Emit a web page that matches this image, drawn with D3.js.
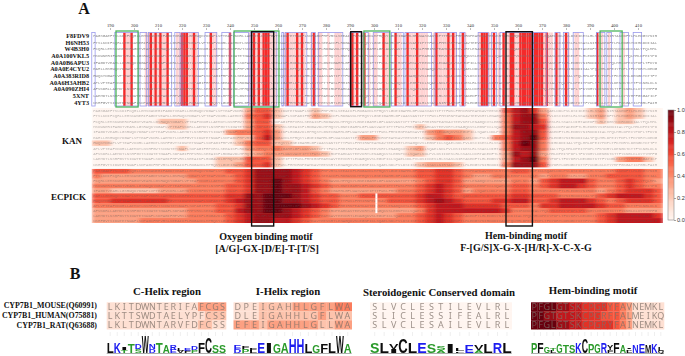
<!DOCTYPE html>
<html>
<head>
<meta charset="utf-8">
<script src="https://d3js.org/d3.v7.min.js"></script>
<style>
  html, body { margin: 0; padding: 0; background: #fff; }
  svg { display: block; }
  .serif { font-family: "Liberation Serif", serif; font-weight: bold; fill: #111; }
</style>
</head>
<body>
<svg id="chart" width="685" height="356"></svg>
<script>
// panel A alignment
const msaLabels = ["F8FDV9", "H6NH53", "W4B3H0", "A0A100VKL5", "A0A0B6APU3", "A0A0E4CYU2", "A0A383RID8", "A0A6H3AHB2", "A0A090ZHI4", "5XNT", "4YT3"];
const residueTicks = [190, 200, 210, 220, 230, 240, 250, 260, 270, 280, 290, 300, 310, 320, 330, 340, 350, 360, 370, 380, 390, 400, 410];
const alignedSeq = "PAGSGAEFTSLKDIFCQRLLEMSKWNERIFAGDTVEAHLLGSRWQKYDGAPLVPTEAFVKDRLLAEMDTLNSHFGVTSIDWTETNWAFLSDPAGIFHPVRSLSEEAIKFLRDGAVDLMPHQSYLGNEIGAHHLGFLWASVANTIPTTFWSLFHMIRNPEAMKAVTEEVKRTLENAGQKVSLEGNPICLSQAELNDLPVLDSIIKESLRLSSASLNIRTAKEDFTLHLEDGSYNIRKDDIIALYPQLMHLDPEIYPDPLTFKYDRYLDENGKTKTTFYCNGLKLKYYYMPFGSGATICPGRLFAIHEIKQFLILMLSYFELELIEGQAKCPPLDQSRAGLGILPPLNDIEFKYKFKHL";
const conservedResidues = [196, 199, 207, 209, 211, 214, 220, 221, 222, 225, 232, 240, 250, 252, 254, 255, 256, 264, 268, 270, 275, 291, 293, 296, 304, 309, 314, 318, 326, 331, 333, 337, 345, 346, 347, 350, 354, 357, 358, 361, 362, 363, 364, 365, 366, 367, 368, 369, 370, 372, 376, 380, 393];
const similarResidues = [197, 198, 205, 206, 208, 210, 212, 213, 218, 219, 223, 224, 226, 233, 234, 248, 249, 251, 253, 257, 258, 259, 263, 265, 266, 267, 269, 271, 274, 277, 278, 281, 284, 285, 286, 290, 292, 295, 298, 300, 301, 305, 306, 310, 311, 315, 316, 317, 319, 320, 321, 322, 325, 327, 328, 329, 330, 332, 334, 338, 344, 348, 352, 355, 356, 359, 360, 371, 373, 374, 377, 381, 384, 385, 394, 395, 398, 404];
const blueSpans = [[182.4, 183.8], [192, 201.8], [202.5, 205.3], [206, 215.7], [217, 219.2], [220, 226.8], [229.6, 234.5], [236.6, 240], [241.4, 247.7], [248.4, 259.5], [261.6, 262.3], [263, 272], [274, 275.5], [276.8, 287], [290, 294.8], [295.5, 297.6], [299.7, 306.6], [307.3, 312.2], [312.9, 324], [325.4, 334.4], [335.8, 337.9], [343.4, 347.6], [349, 351], [352.5, 366.4], [366.4, 372], [375.4, 377.5], [378.9, 381], [383, 387.2], [392.7, 396.2], [397, 399], [402.5, 406], [408, 411.5]];
const greenSpans = [[192.5, 201.7], [241.7, 260.4], [295.8, 306.6], [394.2, 403.4]];
const blackSpans = [[290.3, 294.8], [249, 258.2], [355, 366]];

// panel A heatmaps, one digit per block, digit / 9 is the attribution score
const kanRows = [
  "0000000000 0000003552 0002000000 0000000000 0005786300 0023023200",
  "0000000000 0000004562 0003200000 0000000000 0004788400 0023023200",
  "0000000222 0000003550 0000000000 0000000000 0004788500 0002022000",
  "0000000022 0000003552 0000000000 0000200000 0004887600 0000000000",
  "0000000000 0000344563 0000000000 0000034332 0004788500 0000000000",
  "0000000000 0000022573 0000000033 0000024542 0045789500 0000000000",
  "2200000000 0000024552 2000000000 0000000000 0004798400 0000000000",
  "0000000002 0000003444 3332000000 0002300000 0004788400 0000000000",
  "0000000000 0000002343 3333200000 0002200000 0003878300 0000000000",
  "0000000000 0002225552 0000000000 0000000000 0003789400 0000034420",
  "0000000000 0002235562 0000000000 0000233320 0004888500 0000000000"
];
const ecpickRows = [
  "5555444444 4444556888 8765444444 4444556654 4444554444 4444455544",
  "4333333333 4444456888 8765444444 4444556654 3344444344 3344555544",
  "3333333333 3444456889 8765433333 3333456653 3333443567 7754456543",
  "4444444444 4444556889 8876544444 4444567654 4444554567 7654456544",
  "3322222333 4444556889 8875433333 3344567653 4444554444 4443456665",
  "5555555555 5555668899 9876554455 5555677655 5555665554 4445677765",
  "5566666655 5555678899 8876554444 4555678765 5566775567 7765456665",
  "4444444444 4445568899 9987654444 4444567776 6665554667 7776554444",
  "3333333333 4445578899 8765433333 3333467777 7776444455 5544443333",
  "3333333333 4444567888 8765433333 3344567654 4444444444 4445677776",
  "3333344444 4444567887 7654444444 4444567654 4444444444 4445677777"
];
const ecpickGapResidue = 301;
const ecpickGapRows = [5, 6, 7, 8];
const colorTicks = [0, 0.2, 0.4, 0.6, 0.8, 1];

// panel B
const strainLabels = ["CYP7B1_MOUSE(Q60991)", "CYP7B1_HUMAN(O75881)", "CYP7B1_RAT(Q63688)"];
const cHelixSeqs = ["LKITDWNTERIFAFCGS", "LKTTSWDTAELYPFCSS", "LKLTDWNTARVFDFCSS"];
const cHelixScores = ["11111111111113333", "11111111111111222", "11111111111112211"];
const cHelixLogo = "L2.4 K2.7 T.7+I.5 T2.2 S1+D1.4 W4.2 D1+N1.4 T2.4 A2 E.8+R1.2 V.6+L.7 F.6+E.7 P.7+D.8 F2.4 C3.8 S1.8 S1.8".split(" ");
const iHelixSeqs = ["DPEIGAHHLGFLWA", "DLEIGAHHLGFLWA", "EFEIGAHHLGLLWA"];
const iHelixScores = ["11122223333344", "11122222223222", "33323333332233"];
const iHelixLogo = "D.9+E.9 P1+F.7 L.5+F.5 E2.4 I2.4 G2.3 A2.4 H3.6 H3.6 L2.2 G2 F2.3 L2.5 W4.3 A2.3".split(" ");
const steroidSeqs = ["SLVCLESTILEVLRL", "SLICLESSIFEALRL", "SLVCLESAILEVLRL"];
const steroidScores = ["000000000000000", "000000000000000", "000000000000000"];
const steroidLogo = "S2.4 L2.5 I.9+V1.3 C3.6 L2.5 E2.4 S2.2 A.7+S.9 I2.3 F.4+L.5 E2 A.7+V1.2 L2.2 R2.5 L2.5".split(" ");
const hemSeqs = ["PFGLGTSKCPGRYFAVNEMKL", "PFGTGTSKCPGRFFALMEIKQ", "PFGLGTSKCPGRYFAINEMKL"];
const hemScores = ["999988776666554311111", "998877776665554311111", "999988776666654311111"];
const hemLogo = "P2.5 F2.5 G1.6 L.5+T.5 G2.2 T2 S2 K2.4 C3.6 P2.2 G2.3 R2.4 F.7+Y1.2 F2.4 A2 L.6+V.4+I.4 N1.8 E2.2 M2 K2.2 Q.5+L.8".split(" ");

var svg = d3.select("#chart");

// a little softness, the source figure is a downscaled raster
var defs = svg.append("defs");
defs.append("filter").attr("id", "soft").append("feGaussianBlur").attr("stdDeviation", 0.35);
defs.append("filter").attr("id", "softHeat").attr("x", "-2%").attr("width", "104%")
  .append("feGaussianBlur").attr("stdDeviation", "2.2 0.5");

var color = d3.scaleSequential(d3.interpolateReds).domain([0, 1]);
var xRes = d3.scaleLinear().domain([190, 410]).range([110, 638]);

// ---- alignment ----
var msaTop = 32.5, msaBottom = 106;
var msaRow = d3.scaleBand().domain(d3.range(msaLabels.length)).range([msaTop, msaBottom]);
var msa = svg.append("g").attr("filter", "url(#soft)");

msa.selectAll(".sim").data(similarResidues).enter().append("rect")
  .attr("x", (d) => xRes(d - 0.5)).attr("y", msaTop)
  .attr("width", xRes(1) - xRes(0)).attr("height", msaBottom - msaTop)
  .attr("fill", "#ffd2d2");
msa.selectAll(".cons").data(conservedResidues).enter().append("rect")
  .attr("x", (d) => xRes(d - 0.5)).attr("y", msaTop)
  .attr("width", xRes(1) - xRes(0)).attr("height", msaBottom - msaTop)
  .attr("fill", "#f52a2a");
msa.selectAll(".blue").data(blueSpans).enter().append("rect")
  .attr("x", (d) => xRes(d[0])).attr("y", msaTop)
  .attr("width", (d) => xRes(d[1]) - xRes(d[0])).attr("height", msaBottom - msaTop)
  .attr("fill", "none").attr("stroke", "#9a9aec").attr("stroke-width", 0.8);

function seqRows(g, count, rowScale, fill, opacity) {
  g.selectAll(".seq").data(d3.range(count)).enter().append("text")
    .attr("x", xRes(183))
    .attr("y", (d) => rowScale(d) + rowScale.bandwidth() / 2 + 1.1)
    .attr("textLength", xRes(418) - xRes(183))
    .attr("lengthAdjust", "spacingAndGlyphs")
    .attr("font-family", "Liberation Mono")
    .attr("font-size", 3.4)
    .attr("fill", fill)
    .attr("opacity", opacity)
    .text((d) => alignedSeq.substr(d * 7, 235));
}
seqRows(msa, msaLabels.length, msaRow, "#777", 0.85);

svg.append("g").selectAll("text").data(msaLabels).enter().append("text")
  .attr("class", "serif")
  .attr("x", 89).attr("y", (d, i) => msaRow(i) + msaRow.bandwidth() / 2 + 2.2)
  .attr("text-anchor", "end").attr("font-size", 6.2).text((d) => d);

var axisTop = svg.append("g").attr("transform", "translate(0,30)")
  .call(d3.axisTop(xRes).tickValues(residueTicks).tickSize(2).tickPadding(1));
axisTop.select(".domain").remove();
axisTop.selectAll("line").attr("stroke", "#777").attr("stroke-width", 0.5);
axisTop.selectAll("text").attr("font-family", "Liberation Serif").attr("font-size", 4.6).attr("fill", "#333");

// ---- heatmaps ----
function heatmap(rows, top, bottom) {
  var cells = rows.map((r) => r.replace(/ /g, "").split(""));
  var xCol = d3.scaleBand().domain(d3.range(cells[0].length)).range([91.7, 663]);
  var yRow = d3.scaleBand().domain(d3.range(cells.length)).range([top, bottom]);
  var clipId = "clip" + top;
  defs.append("clipPath").attr("id", clipId).append("rect")
    .attr("x", 91.7).attr("y", top).attr("width", 571.3).attr("height", bottom - top);
  var outer = svg.append("g").attr("clip-path", "url(#" + clipId + ")");
  var g = outer.append("g").attr("filter", "url(#softHeat)");
  g.selectAll("g").data(cells).enter().append("g")
    .attr("transform", (d, i) => "translate(0," + yRow(i) + ")")
    .selectAll("rect").data((d) => d).enter().append("rect")
    .attr("x", (d, i) => xCol(i))
    .attr("width", xCol.bandwidth() + 0.5)
    .attr("height", yRow.bandwidth() + 0.3)
    .attr("fill", (d) => color(+d / 9));
  seqRows(outer.append("g").attr("filter", "url(#soft)"), rows.length, yRow, "#555", 0.42);
  return yRow;
}
var kanY = heatmap(kanRows, 108, 167.5);
var ecY = heatmap(ecpickRows, 168.7, 223);

svg.selectAll(".gap").data(ecpickGapRows).enter().append("rect")
  .attr("x", xRes(ecpickGapResidue) - 1).attr("y", (d) => ecY(d))
  .attr("width", 2).attr("height", ecY.bandwidth())
  .attr("fill", "#fff");

svg.append("text").attr("class", "serif").attr("x", 72).attr("y", 144)
  .attr("text-anchor", "middle").attr("font-size", 9).text("KAN");
svg.append("text").attr("class", "serif").attr("x", 68.5).attr("y", 200)
  .attr("text-anchor", "middle").attr("font-size", 9).text("ECPICK");

// ---- motif boxes ----
svg.selectAll(".green").data(greenSpans).enter().append("rect")
  .attr("x", (d) => xRes(d[0])).attr("y", 31)
  .attr("width", (d) => xRes(d[1]) - xRes(d[0])).attr("height", 76)
  .attr("fill", "none").attr("stroke", "#4db45e").attr("stroke-width", 1.3);
svg.selectAll(".black").data(blackSpans).enter().append("rect")
  .attr("x", (d) => xRes(d[0])).attr("y", 31.7)
  .attr("width", (d) => xRes(d[1]) - xRes(d[0]))
  .attr("height", (d, i) => (i == 0 ? 75 : 194.3))
  .attr("fill", "none").attr("stroke", "#111").attr("stroke-width", 1.4);

// ---- colour bar ----
var yBar = d3.scaleLinear().domain([0, 1]).range([220, 110]);
svg.append("g").selectAll("rect").data(d3.range(0, 1, 0.01)).enter().append("rect")
  .attr("x", 668).attr("y", (d) => yBar(d + 0.01))
  .attr("width", 6).attr("height", yBar(0) - yBar(0.01) + 0.4)
  .attr("fill", (d) => color(d));
var barAxis = svg.append("g").attr("transform", "translate(674,0)")
  .call(d3.axisRight(yBar).tickValues(colorTicks).tickFormat(d3.format(".1f")).tickSize(2).tickPadding(1));
barAxis.select(".domain").remove();
barAxis.selectAll("line").attr("stroke", "#666").attr("stroke-width", 0.6);
barAxis.selectAll("text").attr("font-family", "Liberation Sans").attr("font-size", 5.6).attr("fill", "#333");
svg.append("rect").attr("x", 668).attr("y", 110).attr("width", 6).attr("height", 110)
  .attr("fill", "none").attr("stroke", "#888").attr("stroke-width", 0.6);

// ---- captions ----
function caption(x, y, size, str) {
  svg.append("text").attr("class", "serif").attr("x", x).attr("y", y)
    .attr("text-anchor", "middle").attr("font-size", size).text(str);
}
caption(84, 14, 16, "A");
caption(75, 279, 16, "B");
caption(266, 240, 10, "Oxygen binding motif");
caption(267, 252, 10, "[A/G]-GX-[D/E]-T-[T/S]");
caption(526, 239, 10, "Hem-binding motif");
caption(526, 251, 10, "F-[G/S]X-G-X-[H/R]-X-C-X-G");
caption(167, 295, 10.8, "C-Helix region");
caption(288, 295, 10.8, "I-Helix region");
caption(439, 296, 10.8, "Steroidogenic Conserved domain");
caption(593, 294, 10.8, "Hem-binding motif");

svg.append("g").selectAll("text").data(strainLabels).enter().append("text")
  .attr("class", "serif")
  .attr("x", 97).attr("y", (d, i) => 308 + i * 10)
  .attr("text-anchor", "end").attr("font-size", 7.9).text((d) => d);

// ---- panel B strips and logos ----
var stripRows = d3.scaleBand().domain(d3.range(3)).range([302.3, 329.3]);
var bits = d3.scaleLinear().domain([0, 4]).range([0, 16.5]);
var logoBase = 353;

function logoColor(letter) {
  if ("KRHDEN".indexOf(letter) >= 0) return "#1c1cf0";
  if ("TSGAP".indexOf(letter) >= 0) return "#2a9a2a";
  return "#111";
}

function motifPanel(seqs, scores, logo, x0, x1) {
  var xStrip = d3.scaleBand().domain(d3.range(seqs[0].length)).range([x0, x1]);
  var xLogo = d3.scaleBand().domain(d3.range(logo.length)).range([x0, x1]);
  var g = svg.append("g").attr("filter", "url(#soft)");

  scores.forEach(function (row, r) {
    g.append("g").selectAll("rect").data(row.split("")).enter().append("rect")
      .attr("x", (d, i) => xStrip(i)).attr("y", stripRows(r))
      .attr("width", xStrip.bandwidth() + 0.3).attr("height", stripRows.bandwidth() + 0.2)
      .attr("fill", (d) => color(+d / 9));
    g.append("g").selectAll("text").data(seqs[r].split("")).enter().append("text")
      .attr("x", (d, i) => xStrip(i) + xStrip.bandwidth() / 2)
      .attr("y", stripRows(r) + stripRows.bandwidth() - 1)
      .attr("text-anchor", "middle")
      .attr("font-family", "Noto Sans").attr("font-size", 9)
      .attr("fill", "#7d7068").attr("opacity", 0.75)
      .text((d) => d);
  });

  // faint ticks above the logo, then the stacked letters
  g.append("g").selectAll("line").data(d3.range(logo.length)).enter().append("line")
    .attr("x1", (d) => xLogo(d) + xLogo.bandwidth() / 2)
    .attr("x2", (d) => xLogo(d) + xLogo.bandwidth() / 2)
    .attr("y1", 332).attr("y2", 336)
    .attr("stroke", "#e4e4e4").attr("stroke-width", 0.6);
  g.append("line").attr("x1", x0).attr("x2", x1).attr("y1", logoBase + 0.5).attr("y2", logoBase + 0.5)
    .attr("stroke", "#777").attr("stroke-width", 0.6);

  logo.forEach(function (stack, i) {
    var base = logoBase;
    stack.split("+").forEach(function (part) {
      var letter = part[0];
      var h = bits(+part.slice(1));
      var t = g.append("text")
        .attr("font-family", "Liberation Sans").attr("font-weight", "bold")
        .attr("font-size", 20).attr("fill", logoColor(letter)).text(letter);
      var w = t.node().getComputedTextLength();
      t.attr("transform", "translate(" + xLogo(i) + "," + base + ") scale(" +
        xLogo.bandwidth() / w + "," + h / (20 * 0.716) + ")");
      base -= h;
    });
  });
}

motifPanel(cHelixSeqs, cHelixScores, cHelixLogo, 106.7, 226);
motifPanel(iHelixSeqs, iHelixScores, iHelixLogo, 233.5, 351.7);
motifPanel(steroidSeqs, steroidScores, steroidLogo, 370, 511.7);
motifPanel(hemSeqs, hemScores, hemLogo, 531, 664);
</script>
</body>
</html>
